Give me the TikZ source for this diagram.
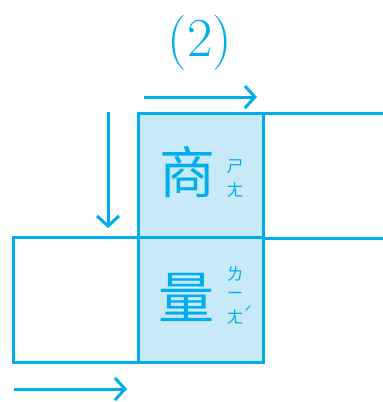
\documentclass[tikz,border=0pt]{standalone}
\usepackage{fontspec}
\newfontfamily\cjk{Noto Sans CJK SC}
\usetikzlibrary{arrows.meta}
\definecolor{cy}{HTML}{00AEEF}
\definecolor{lb}{HTML}{C8E9F8}
\tikzset{
  cell/.style={draw=cy, line width=3pt, minimum size=125pt, inner sep=0pt, outer sep=0pt},
  arr/.style={draw=cy, line width=3pt, -{Straight Barb[length=10pt,width=22pt,line width=3pt]}},
  han/.style={text=cy, font=\cjk\fontsize{56}{56}\selectfont, inner sep=0pt},
  zy/.style={text=cy, font=\cjk\fontsize{17}{17}\selectfont, inner sep=0pt},
  edge/.style={draw=cy, line width=3pt}
}
\begin{document}
\begin{tikzpicture}[x=1pt,y=-1pt]
\useasboundingbox (0,0) rectangle (383,402);
\node[text=cy, font=\fontsize{55}{55}\selectfont, inner sep=0pt] (t) at (200,43) {(2)};
% cells
\node[cell, fill=lb] (c1) at (200.5,175.5) {};
\node[cell] (c0) at (75.5,299.5) {};
\node[cell, fill=lb] (c2) at (200.5,299.5) {};
% open right lines
\coordinate (r1) at (383,113);
\coordinate (r2) at (383,238);
\draw[edge] (c1.north east) -- (r1);
\draw[edge] (c1.south east) -- (r2);
% characters
\node[han] (h1) at (187.5,172) {商};
\node[han] (h2) at (186,297) {量};
\node[zy] (z1) at (235,167) {ㄕ};
\node[zy] (z2) at (235,190) {ㄤ};
\node[zy] (z3) at (235,274) {ㄌ};
\node[zy] (z4) at (235,296) {ㄧ};
\node[zy] (z5) at (235,317) {ㄤ};
\node[zy, font=\cjk\fontsize{15}{15}\selectfont] (z6) at (248,312) {ˊ};
% arrows
\coordinate (a1s) at (144,97);
\coordinate (a1e) at (257,97);
\draw[arr] (a1s) -- (a1e);
\coordinate (a2s) at (108,112);
\coordinate (a2e) at (108,228);
\draw[arr] (a2s) -- (a2e);
\coordinate (a3s) at (14,389);
\coordinate (a3e) at (127,389);
\draw[arr] (a3s) -- (a3e);
\end{tikzpicture}
\end{document}
